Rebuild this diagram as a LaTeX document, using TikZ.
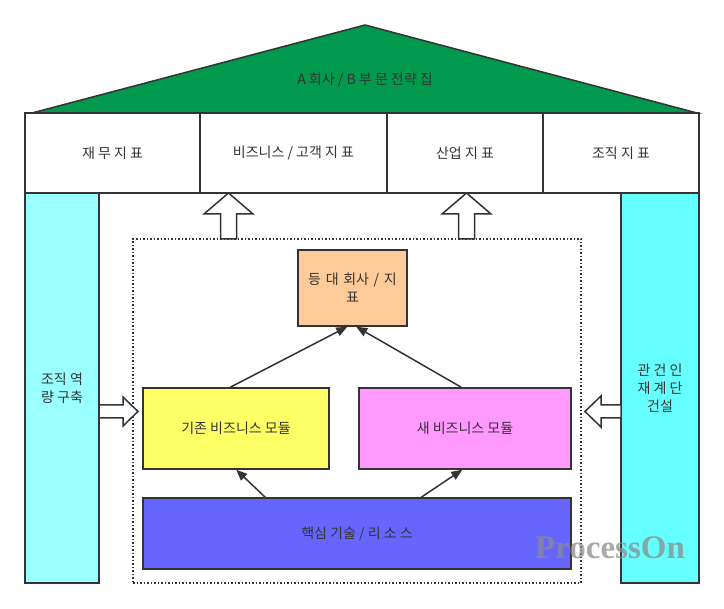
\documentclass[tikz,border=0pt]{standalone}
\usepackage{fontspec}
\setmainfont{Noto Sans CJK KR}
\newfontfamily\wmfont{Liberation Serif}
\usetikzlibrary{calc,arrows.meta}
\definecolor{roofgreen}{HTML}{00994D}
\definecolor{lcyan}{HTML}{99FFFF}
\definecolor{rcyan}{HTML}{66FFFF}
\definecolor{borange}{HTML}{FFCC99}
\definecolor{byellow}{HTML}{FFFF66}
\definecolor{bpink}{HTML}{FF99FF}
\definecolor{bblue}{HTML}{6666FF}
\definecolor{edge}{HTML}{333333}
\definecolor{txt}{HTML}{333333}
\tikzset{
  box/.style={draw=edge, line width=1.5pt, rectangle, inner sep=2pt, align=center,
    text=txt, font=\fontsize{14}{18}\selectfont},
  dotbox/.style={draw=edge, line width=1.5pt, dotted, rectangle},
  arr/.style={draw=edge, line width=1.5pt, -{Triangle[length=11pt,width=9pt]}},
  hollow/.style={draw=edge, line width=1.5pt, fill=white, line join=miter},
}
\begin{document}
\begin{tikzpicture}[x=1pt,y=-1pt]
\useasboundingbox (0,0) rectangle (724,609);
% roof
\coordinate (apex) at (365,25);
\coordinate (roofL) at (32,113);
\coordinate (roofR) at (697,113);
\draw[fill=roofgreen, draw=edge, line width=1.5pt, line join=miter] (roofL) -- (apex) -- (roofR) -- cycle;
\node[text=txt, font=\fontsize{14}{18}\selectfont] (rooftxt) at (365,80) {A 회사 / B 부 문 전략 집};
% header cells
\node[box, fill=white, minimum width=175pt, minimum height=80pt] (h1) at (112.5,153) {재 무 지 표};
\node[box, fill=white, minimum width=187pt, minimum height=80pt] (h2) at (293.5,153) {비즈니스 / 고객 지 표};
\node[box, fill=white, minimum width=156pt, minimum height=80pt] (h3) at (465,153) {산업 지 표};
\node[box, fill=white, minimum width=156pt, minimum height=80pt] (h4) at (621,153) {조직 지 표};
% columns
\node[box, fill=lcyan, minimum width=74pt, minimum height=390pt] (lcol) at (62,388) {조직 역\\량 구축};
\node[box, fill=rcyan, minimum width=78pt, minimum height=390pt] (rcol) at (660,388) {관 건 인\\재 계 단\\건설};
% dotted frame
\node[dotbox, minimum width=448pt, minimum height=344pt] (frame) at (357,411) {};
% inner boxes
\node[box, fill=borange, minimum width=109pt, minimum height=76pt, text width=100pt] (peer) at (352.5,288) {등 대 회사 / 지\\표};
\node[box, fill=byellow, minimum width=186pt, minimum height=81pt] (old) at (236,428.5) {기존 비즈니스 모듈};
\node[box, fill=bpink, minimum width=212pt, minimum height=81pt] (new) at (465,428.5) {새 비즈니스 모듈};
\node[box, fill=bblue, minimum width=428pt, minimum height=71pt] (core) at (357,533.5) {핵심 기술 / 리 소 스};
% connectors
\draw[arr] ($(old.north west)+(88,0)$) -- ($(peer.south west)+(50,0)$);
\draw[arr] ($(new.north west)+(103,0)$) -- ($(peer.south west)+(59,0)$);
\draw[arr] ($(core.north west)+(123,0)$) -- ($(old.south west)+(94,0)$);
\draw[arr] ($(core.north west)+(279,0)$) -- ($(new.south west)+(104,0)$);
% hollow block arrows
\draw[hollow] (220.5,239) -- (220.5,214) -- (204,214) -- (228.5,193) -- (253,214) -- (236.5,214) -- (236.5,239) -- cycle;
\draw[hollow] (458.5,239) -- (458.5,214) -- (442,214) -- (466.5,193) -- (491,214) -- (474.5,214) -- (474.5,239) -- cycle;
\draw[hollow] (99,405) -- (123,405) -- (123,397) -- (138,411.5) -- (123,426) -- (123,418) -- (99,418) -- cycle;
\draw[hollow] (621,405) -- (601,405) -- (601,396) -- (585,411.5) -- (601,427) -- (601,418) -- (621,418) -- cycle;
% watermark
\node[text=black!45, opacity=0.75, font=\wmfont\bfseries\fontsize{33}{36}\selectfont] (wm) at (610,548) {ProcessOn};
\end{tikzpicture}
\end{document}
